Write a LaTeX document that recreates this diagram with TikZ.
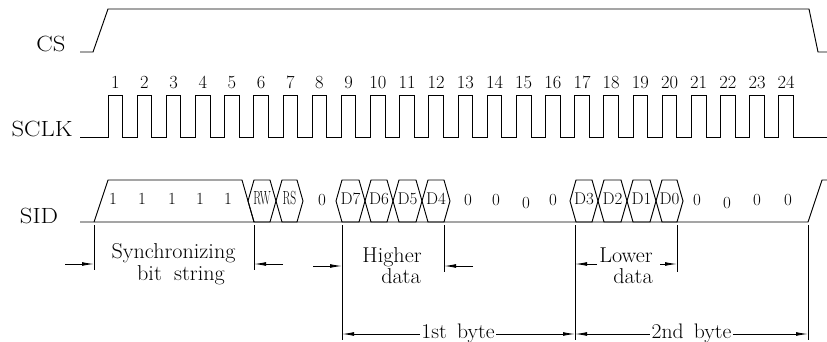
\documentclass[tikz,border=0pt]{standalone}
\usepackage{graphicx}
\usetikzlibrary{arrows.meta}
\newcommand\sigtxt[1]{\scalebox{1.12}[1]{#1}}
\newcommand\antxt[1]{\scalebox{1.03}[1]{#1}}
\newcommand\nartxt[1]{\scalebox{0.6}[1]{#1}}
\newcommand\hexcell[4]{%
  \draw[wave] (#1,201) -- ({#1+6},180) -- ({#2-6},180) -- (#2,201) -- ({#2-6},222) -- ({#1+6},222) -- cycle;
  \node[hextxt] (#3) at ({(#1+#2)/2},204.5) {#4};}
\tikzset{
  wave/.style={line width=0.95pt, line join=miter},
  dimline/.style={line width=0.85pt},
  arr/.style={line width=0.85pt, -{Latex[length=12pt,width=3.8pt]}},
  siglab/.style={anchor=base, inner sep=0pt, font=\fontsize{22}{22}\selectfont},
  numlab/.style={anchor=base, inner sep=0pt, font=\fontsize{18.5}{18.5}\selectfont},
  bitlab/.style={anchor=base, inner sep=0pt, font=\fontsize{17}{17}\selectfont},
  hextxt/.style={anchor=base, inner sep=0pt, font=\fontsize{17}{17}\selectfont},
  annot/.style={anchor=base, inner sep=0pt, font=\fontsize{21.5}{21.5}\selectfont},
  bytelab/.style={anchor=base, inner sep=1.5pt, font=\fontsize{21}{21}\selectfont},
}
\begin{document}
\begin{tikzpicture}[x=1pt,y=-1pt]
\useasboundingbox (0,0) rectangle (827,342);
% signal labels
\node[siglab] (cs) at (51,52) {\sigtxt{CS}};
\node[siglab] (sclk) at (42,137) {\sigtxt{SCLK}};
\node[siglab] (sid) at (39,223) {\sigtxt{SID}};
% CS
\draw[wave] (80,52) -- (93,52) -- (108,9) -- (809,9) -- (818,52) -- (827,52);
% SCLK
\draw[wave] (80,137) foreach \n in {0,...,23} { -- ({108+29.17*\n},137) -- ({108+29.17*\n},95) -- ({122.6+29.17*\n},95) -- ({122.6+29.17*\n},137) } -- (827,137);
\foreach \n in {1,...,24} \node[numlab] (num\n) at ({115.3+29.17*(\n-1)},89) {\n};
% SID
\draw[wave] (80,222) -- (808,222) -- (822,180) -- (827,180);
\draw[wave] (94,222) -- (108,180) -- (242,180) -- (254,222);
\foreach \x [count=\i] in {113,142,172,200,228} \node[bitlab] (one\i) at (\x,204) {1};
\hexcell{248}{276}{rw}{\nartxt{\fontsize{19}{19}\selectfont RW}}
\hexcell{276}{303}{rs}{\nartxt{\fontsize{19}{19}\selectfont RS}}
\node[hextxt] (zr) at (322,205) {0};
\hexcell{336}{365}{d7}{D7}
\hexcell{365}{393}{d6}{D6}
\hexcell{393}{422}{d5}{D5}
\hexcell{422}{450}{d4}{D4}
\node[hextxt] (za1) at (468,205) {0};
\node[hextxt] (za2) at (496,205) {0};
\node[hextxt] (za3) at (526,208) {0};
\node[hextxt] (za4) at (553,205) {0};
\hexcell{570}{598}{d3}{D3}
\hexcell{598}{627}{d2}{D2}
\hexcell{627}{656}{d1}{D1}
\hexcell{656}{683}{d0}{D0}
\node[hextxt] (zb1) at (697,205) {0};
\node[hextxt] (zb2) at (727,208) {0};
\node[hextxt] (zb3) at (757,205) {0};
\node[hextxt] (zb4) at (788,205) {0};
% dimension verticals
\coordinate (v1t) at (94,225);  \coordinate (v1b) at (94,270);
\coordinate (v2t) at (254,225); \coordinate (v2b) at (254,270);
\coordinate (v3t) at (342,225); \coordinate (v3b) at (342,340);
\coordinate (v4t) at (444,225); \coordinate (v4b) at (444,272);
\coordinate (v5t) at (575,225); \coordinate (v5b) at (575,340);
\coordinate (v6t) at (677,225); \coordinate (v6b) at (677,272);
\coordinate (v7t) at (808,225); \coordinate (v7b) at (808,340);
\foreach \v in {1,...,7} \draw[dimline] (v\v t) -- (v\v b);
% dimension arrows
\coordinate (a1) at (65,264);  \draw[arr] (a1) -- (a1 -| v1t);
\coordinate (a2) at (283,264); \draw[arr] (a2) -- (a2 -| v2t);
\coordinate (a3) at (313,266); \draw[arr] (a3) -- (a3 -| v3t);
\coordinate (a4) at (473,266); \draw[arr] (a4) -- (a4 -| v4t);
\coordinate (a5) at (597,264); \draw[arr] (a5) -- (a5 -| v5t);
\coordinate (a6) at (660,264); \draw[arr] (a6) -- (a6 -| v6t);
% annotation texts
\node[annot] (sync1) at (173.5,258) {\antxt{Synchronizing}};
\node[annot] (sync2) at (181,280) {\antxt{bit\hspace{12pt}string}};
\node[annot] (hi1) at (392,262) {\antxt{Higher}};
\node[annot] (hi2) at (401,283) {\antxt{data}};
\node[annot] (lo1) at (626,262) {\antxt{Lower}};
\node[annot] (lo2) at (633,283) {\antxt{data}};
% byte arrows
\coordinate (yb) at (0,334);
\node[bytelab] (b1) at (458,338) {\antxt{1st\hspace{10pt}byte}};
\node[bytelab] (b2) at (691.5,338) {\antxt{2nd\hspace{10pt}byte}};
\draw[arr] (b1.west |- yb) -- (v3t |- yb);
\draw[arr] (b1.east |- yb) -- (v5t |- yb);
\draw[arr] (b2.west |- yb) -- (v5t |- yb);
\draw[arr] (b2.east |- yb) -- (v7t |- yb);
\end{tikzpicture}
\end{document}
